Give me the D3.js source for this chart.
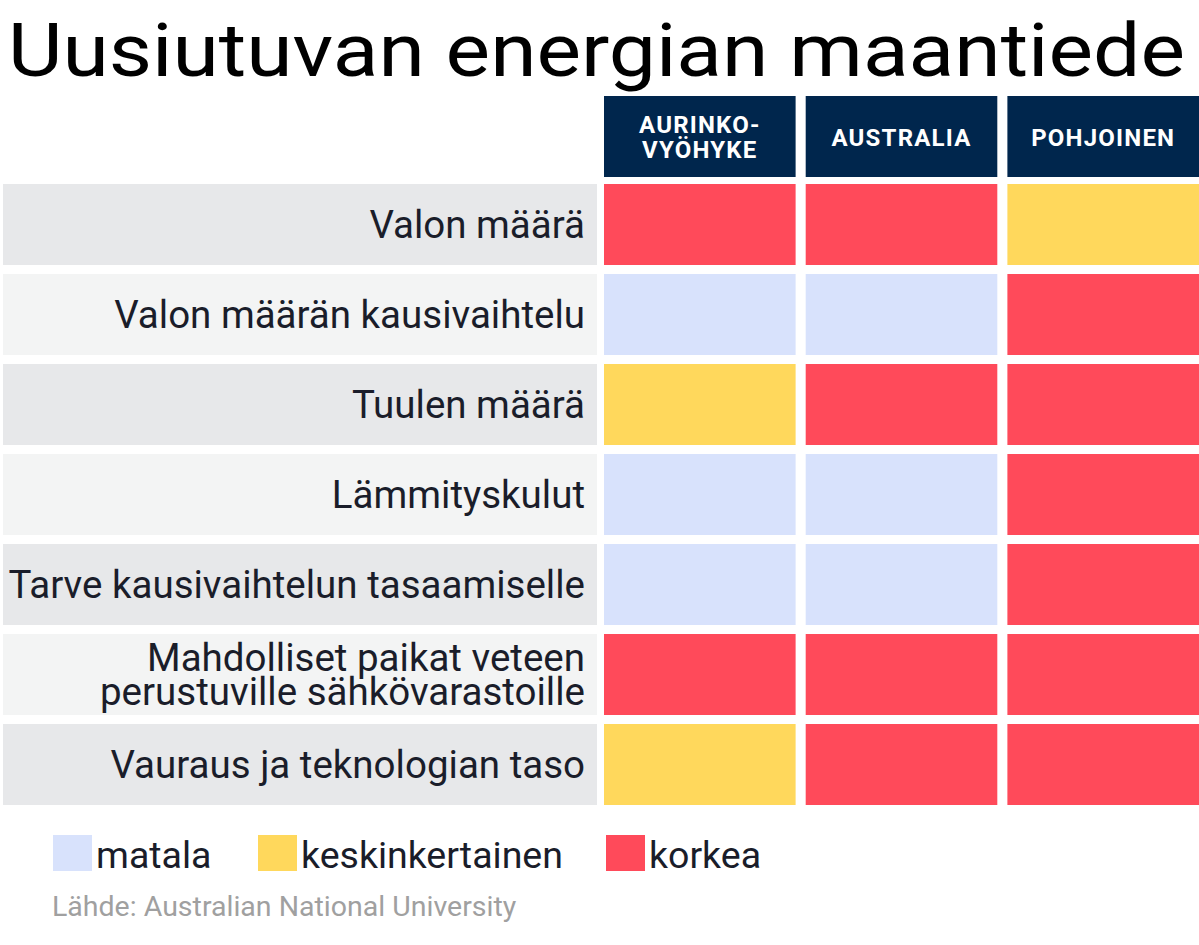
<!DOCTYPE html>
<html><head><meta charset="utf-8">
<script src="https://cdn.jsdelivr.net/npm/d3@7"></script>
<style>body{margin:0;background:#fff}</style></head>
<body><svg id="c" width="1199" height="945"></svg>
<script>
const columns = [["AURINKO-","VYÖHYKE"],["AUSTRALIA"],["POHJOINEN"]];
const rows = [["Valon määrä"],["Valon määrän kausivaihtelu"],["Tuulen määrä"],["Lämmityskulut"],["Tarve kausivaihtelun tasaamiselle"],["Mahdolliset paikat veteen","perustuville sähkövarastoille"],["Vauraus ja teknologian taso"]];
const levels = ["matala","keskinkertainen","korkea"];
const values = [
 [2,2,1],[0,0,2],[1,2,2],[0,0,2],[0,0,2],[2,2,2],[1,2,2]
];
const colors = ["#d8e2fc","#ffd85c","#ff4a5a"];
const svg = d3.select("#c");
const font = "Roboto, sans-serif";
svg.append("text").attr("x",8).attr("y",76).attr("font-family",font).attr("font-size",74)
  .attr("textLength",1177).attr("lengthAdjust","spacingAndGlyphs").attr("fill","#000").text("Uusiutuvan energian maantiede");
const x = d3.scaleBand().domain(d3.range(columns.length)).range([604,1199]).paddingInner(0.05).paddingOuter(0);
const y = d3.scaleBand().domain(d3.range(rows.length)).range([184,805]).paddingInner(0.1).paddingOuter(0);
const col = d3.scaleOrdinal().domain([0,1,2]).range(colors);
const h = svg.selectAll("g.h").data(columns).join("g");
h.append("rect").attr("x",(d,i)=>x(i)).attr("y",96).attr("width",x.bandwidth()).attr("height",81).attr("fill","#00264d");
h.each(function(d,i){
  const g=d3.select(this);
  d.forEach((t,j)=>g.append("text").attr("x",x(i)+x.bandwidth()/2).attr("y",136.5+(j-(d.length-1)/2)*25+9)
   .attr("text-anchor","middle").attr("font-family",font).attr("font-weight",700).attr("font-size",24).attr("letter-spacing",1.2).attr("fill","#fff").text(t));
});
rows.forEach((r,i)=>{
  svg.append("rect").attr("x",3).attr("y",y(i)).attr("width",594).attr("height",y.bandwidth()).attr("fill",i%2?"#f3f4f4":"#e7e8ea");
  r.forEach((t,j)=>svg.append("text").attr("x",585).attr("y",y(i)+y.bandwidth()/2+13+(j-(r.length-1)/2)*34)
    .attr("text-anchor","end").attr("font-family",font).attr("font-size",38.5).attr("fill","#1a1d2a").text(t));
  values[i].forEach((v,k)=>svg.append("rect").attr("x",x(k)).attr("y",y(i)).attr("width",x.bandwidth()).attr("height",y.bandwidth()).attr("fill",col(v)));
});
const lx=[53,258,606];
levels.forEach((l,i)=>{
  svg.append("rect").attr("x",lx[i]).attr("y",835).attr("width",39).attr("height",36).attr("fill",colors[i]);
  svg.append("text").attr("x",lx[i]+43).attr("y",868).attr("font-family",font).attr("font-size",37.5).attr("fill","#1a1d2a").text(l);
});
svg.append("text").attr("x",52).attr("y",916).attr("font-family",font).attr("font-size",28.5).attr("fill","#a0a0a0").text("Lähde: Australian National University");
</script></body></html>
